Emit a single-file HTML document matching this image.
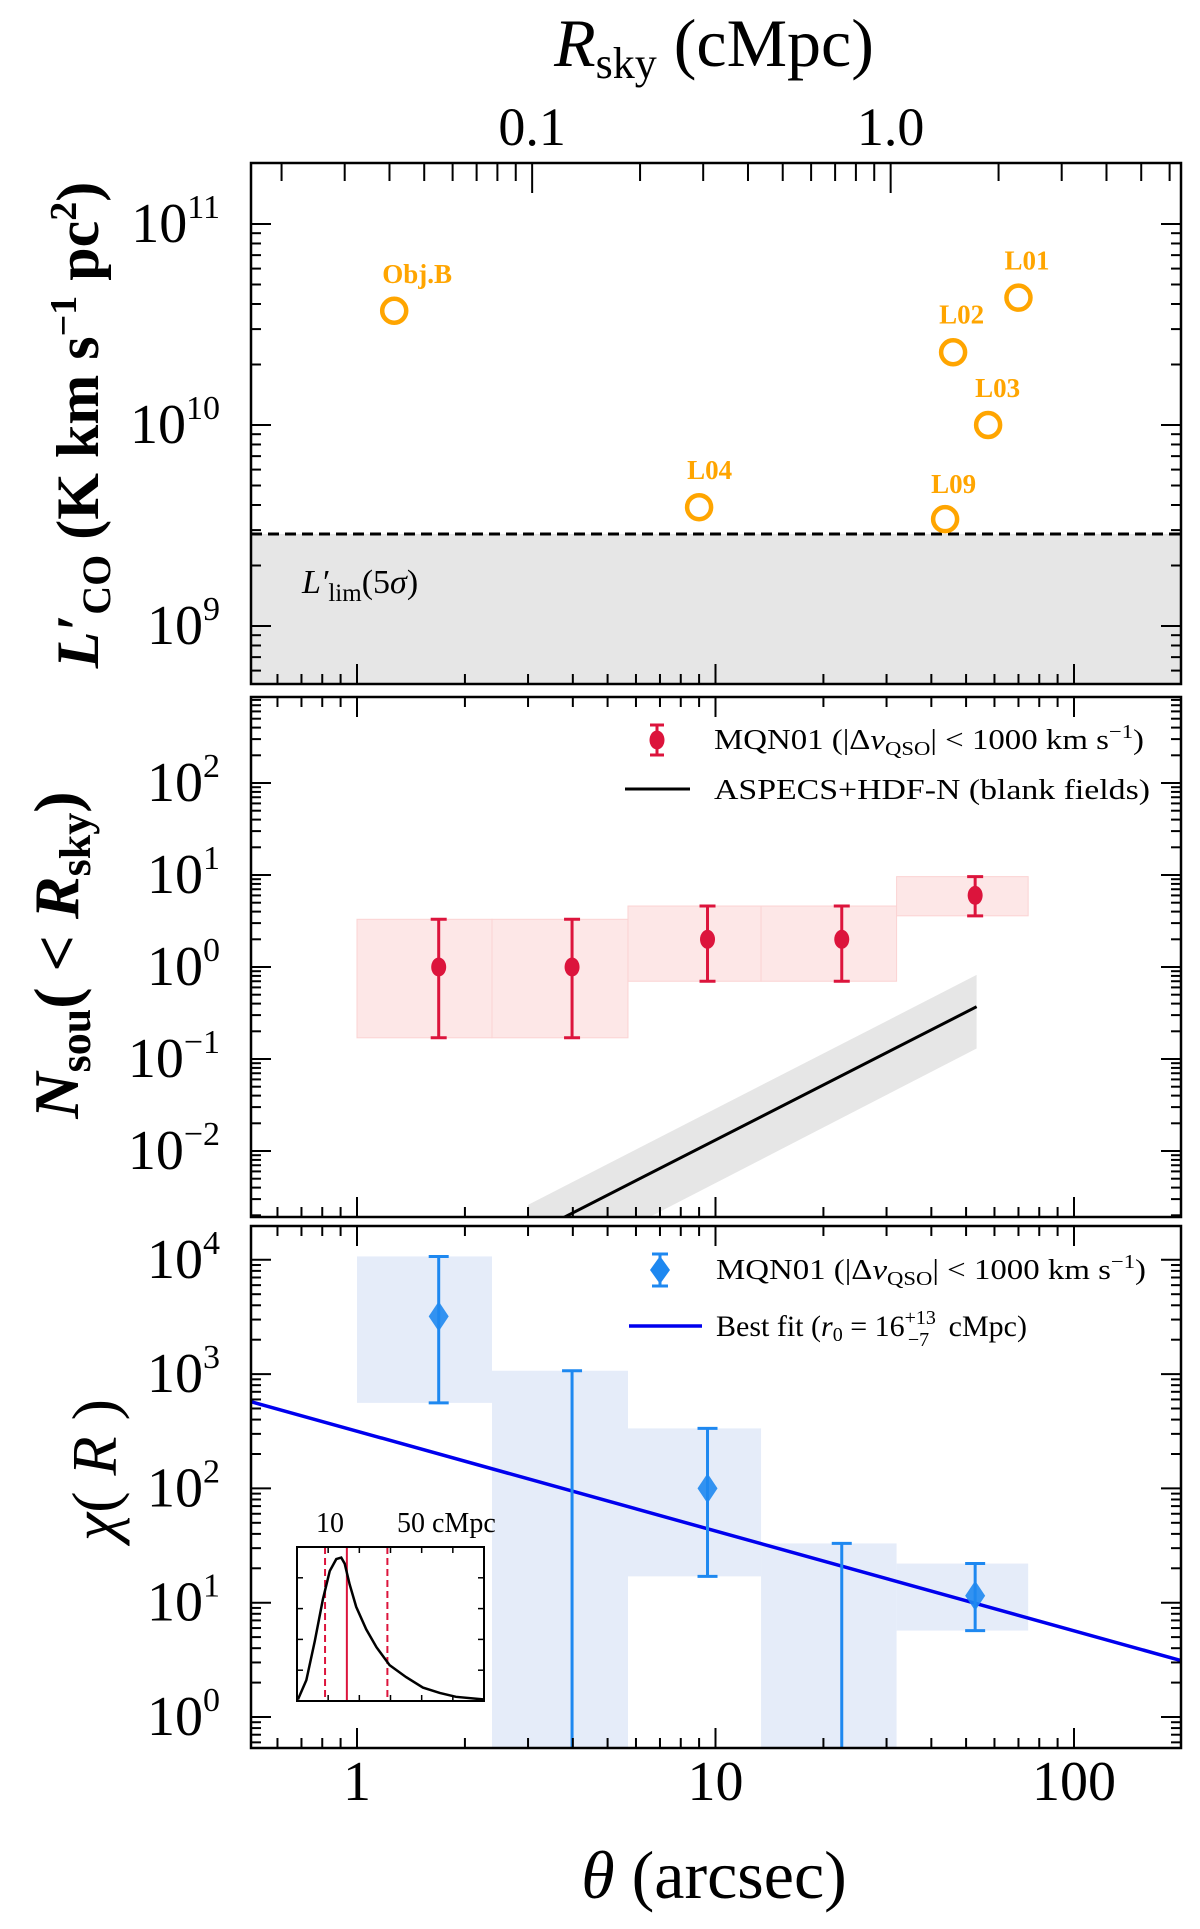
<!DOCTYPE html>
<html><head><meta charset="utf-8">
<style>
html,body{margin:0;padding:0;background:#fff;}
svg{display:block;font-family:"Liberation Serif","DejaVu Serif",serif;}
</style></head>
<body>
<svg id="fig" width="1200" height="1929" viewBox="0 0 1200 1929" xmlns="http://www.w3.org/2000/svg"></svg>
<script>
// ---------- data ----------
const objNames = ["Obj.B","L04","L09","L02","L03","L01"];
const objTheta = [1.27, 9.0, 43.7, 46, 57.6, 70];
const objLco = [3.7e10, 3.9e9, 3.4e9, 2.3e10, 1.0e10, 4.3e10];
const lcoLimit = 2.87e9;

const binEdges = [1, 2.38, 5.7, 13.4, 32, 74.5];
const binCenters = [1.69, 3.98, 9.5, 22.5, 53];
const nsouVal = [1, 1, 2, 2, 6];
const nsouLo = [0.17, 0.17, 0.7, 0.7, 3.6];
const nsouHi = [3.3, 3.3, 4.6, 4.6, 9.6];
const blankTheta = [3.0, 53.5];
const blankN = [0.0012, 0.37];
const blankLo = [0.0004, 0.13];
const blankHi = [0.0026, 0.82];

const chiVal = [3200, null, 100, null, 11.5];
const chiLo = [560, 0.3, 17, 0.3, 5.7];
const chiHi = [10700, 1070, 335, 33, 22];
const fitTheta = [0.5, 200];
const fitChi = [580, 3.1];

const insetR = [0.3,3,5.7,8.3,10.5,12.6,14.2,15.3,16.9,19,22.2,25.5,29.7,35,40.4,45.8,51,59.7];
const insetP = [0.01,0.14,0.40,0.68,0.87,0.95,0.96,0.92,0.78,0.63,0.48,0.36,0.24,0.16,0.09,0.054,0.028,0.011];
const insetLines = [9, 16, 29];

// ---------- helpers ----------
const NS="http://www.w3.org/2000/svg";
const svg=document.getElementById('fig');
function mk(tag,attrs,parent){const e=document.createElementNS(NS,tag);for(const k in attrs)e.setAttribute(k,attrs[k]);(parent||svg).appendChild(e);return e;}
const XL=251,XR=1181;
const xs=t=>357+Math.log10(t)*358.5;
function ys(y0,pxPerDec,topExp){return v=>y0+(topExp-Math.log10(v))*pxPerDec;}
const P1={top:163,bot:684,y:ys(224,201,11)};
const P2={top:697,bot:1217,y:ys(967,92,0)};
const P3={top:1226,bot:1748,y:ys(1717,114.3,0)};

function clip(id,p){const c=mk('clipPath',{id:id});mk('rect',{x:XL,y:p.top,width:XR-XL,height:p.bot-p.top},c);}
clip('c1',P1);clip('c2',P2);clip('c3',P3);

function xTicks(p,top,bottom,g){
  for(let d=-1;d<=2;d++)for(let m=1;m<10;m++){const v=m*Math.pow(10,d);const x=xs(v);if(x<XL+1||x>XR-1)continue;
    const L=m===1?20:10;
    if(bottom)mk('line',{x1:x,x2:x,y1:p.bot,y2:p.bot-L,stroke:'#000','stroke-width':2},g);
    if(top)mk('line',{x1:x,x2:x,y1:p.top,y2:p.top+L,stroke:'#000','stroke-width':2},g);}
}
function yTicks(p,eMin,eMax,g){
  for(let e=eMin;e<=eMax;e++)for(let m=1;m<10;m++){const v=m*Math.pow(10,e);const y=p.y(v);if(y<p.top+1||y>p.bot-1)continue;
    const L=m===1?20:10;
    mk('line',{x1:XL,x2:XL+L,y1:y,y2:y,stroke:'#000','stroke-width':2},g);
    mk('line',{x1:XR,x2:XR-L,y1:y,y2:y,stroke:'#000','stroke-width':2},g);}
}
function yLabel(p,e,g){const y=p.y(Math.pow(10,e));const t=mk('text',{x:220,y:y+18,'font-size':56,'text-anchor':'end'},g);
  
  
  t.appendChild(document.createTextNode('10'));const s=mk('tspan',{dy:-24,'font-size':34},t);s.textContent=(e<0?'\u2212'+(-e):e);}

// ---------- panel 1 ----------
const g1=mk('g',{});
mk('rect',{x:XL,y:P1.y(lcoLimit),width:XR-XL,height:P1.bot-P1.y(lcoLimit),fill:'#e6e6e6',},g1);
mk('line',{x1:XL,x2:XR,y1:P1.y(lcoLimit),y2:P1.y(lcoLimit),stroke:'#000','stroke-width':3,'stroke-dasharray':'11,6',},g1);
const ll=mk('text',{x:302,y:593,'font-size':34,'font-style':'italic',},g1);
ll.innerHTML="L′<tspan font-style='normal' font-size='25' dy='8'>lim</tspan><tspan font-style='normal' dy='-8'>(5</tspan>σ<tspan font-style='normal'>)</tspan>";
const labOff={"Obj.B":[-12,-28],"L04":[-12,-28],"L09":[-14,-26],"L02":[-14,-29],"L03":[-13,-28],"L01":[-14,-28]};
objNames.forEach((n,i)=>{
  const x=xs(objTheta[i]),y=P1.y(objLco[i]);
  const c=mk('circle',{cx:x,cy:y,r:12,fill:'none',stroke:'#FFA500','stroke-width':4.5},g1);
  
  
  const t=mk('text',{x:x+labOff[n][0],y:y+labOff[n][1],'font-size':27,'font-weight':'bold',fill:'#FFA500'},g1);
  
  
  t.textContent=n;
});
yTicks(P1,8,11,g1);xTicks(P1,false,true,g1);
const thetaPerMpc=30.8;
for(let d=-2;d<=0;d++)for(let m=1;m<10;m++){const r=m*Math.pow(10,d);const x=xs(r*thetaPerMpc);if(x<XL+1||x>XR-1)continue;
  mk('line',{x1:x,x2:x,y1:P1.top,y2:P1.top+(m===1?30:18),stroke:'#000','stroke-width':2},g1);}
[[0.1,'0.1'],[1,'1.0']].forEach(a=>{const t=mk('text',{x:xs(a[0]*thetaPerMpc),y:145,'font-size':54,'text-anchor':'middle',},g1);t.textContent=a[1];});
mk('rect',{x:XL,y:P1.top,width:XR-XL,height:P1.bot-P1.top,fill:'none',stroke:'#000','stroke-width':2.5},g1);
[9,10,11].forEach(e=>yLabel(P1,e,g1));
const tt=mk('text',{x:714,y:66,'font-size':68,'text-anchor':'middle',},g1);
tt.innerHTML="<tspan font-style='italic'>R</tspan><tspan font-size='44' dy='12'>sky</tspan><tspan dy='-12'> (cMpc)</tspan>";
const y1t=mk('text',{transform:'translate(98,425) rotate(-90)','font-size':60,'text-anchor':'middle','font-weight':'bold',},g1);
y1t.innerHTML="<tspan font-style='italic'>L′</tspan><tspan font-size='40' dy='12'>CO</tspan><tspan dy='-12'> (K km s</tspan><tspan font-size='38' dy='-22'>−1</tspan><tspan dy='22'> pc</tspan><tspan font-size='38' dy='-22'>2</tspan><tspan dy='22'>)</tspan>";

// ---------- panel 2 ----------
const g2=mk('g',{});
const g2c=mk('g',{'clip-path':'url(#c2)'},g2);
binCenters.forEach((c,i)=>{
  const r=mk('rect',{x:xs(binEdges[i]),y:P2.y(nsouHi[i]),width:xs(binEdges[i+1])-xs(binEdges[i]),height:P2.y(nsouLo[i])-P2.y(nsouHi[i]),fill:'#fde4e4','fill-opacity':0.9,stroke:'#fbd3d3','stroke-width':1},g2c);
  
  
});
const band=[];for(let i=0;i<blankTheta.length;i++)band.push(xs(blankTheta[i])+','+P2.y(blankHi[i]));
for(let i=blankTheta.length-1;i>=0;i--)band.push(xs(blankTheta[i])+','+P2.y(blankLo[i]));
mk('polygon',{points:band.join(' '),fill:'#e6e6e6',},g2c);
mk('polyline',{points:blankTheta.map((t,i)=>xs(t)+','+P2.y(blankN[i])).join(' '),fill:'none',stroke:'#000','stroke-width':3,},g2c);
binCenters.forEach((c,i)=>{
  const x=xs(c);const gp=mk('g',{},g2c);
  
  
  mk('line',{x1:x,x2:x,y1:P2.y(nsouLo[i]),y2:P2.y(nsouHi[i]),stroke:'#DC143C','stroke-width':3},gp);
  [nsouLo[i],nsouHi[i]].forEach(v=>mk('line',{x1:x-8,x2:x+8,y1:P2.y(v),y2:P2.y(v),stroke:'#DC143C','stroke-width':3},gp));
  mk('ellipse',{cx:x,cy:P2.y(nsouVal[i]),rx:7.5,ry:9.5,fill:'#DC143C'},gp);
});
yTicks(P2,-3,2,g2);xTicks(P2,true,true,g2);
mk('rect',{x:XL,y:P2.top,width:XR-XL,height:P2.bot-P2.top,fill:'none',stroke:'#000','stroke-width':2.5},g2);
[-2,-1,0,1,2].forEach(e=>yLabel(P2,e,g2));
const lg2=mk('g',{},g2);
mk('line',{x1:657,x2:657,y1:725,y2:755,stroke:'#DC143C','stroke-width':3},lg2);
mk('line',{x1:650,x2:664,y1:725,y2:725,stroke:'#DC143C','stroke-width':3},lg2);
mk('line',{x1:650,x2:664,y1:755,y2:755,stroke:'#DC143C','stroke-width':3},lg2);
mk('ellipse',{cx:657,cy:740,rx:7.5,ry:9.5,fill:'#DC143C'},lg2);
const lt1=mk('text',{x:714,y:749,'font-size':29,textLength:430,lengthAdjust:'spacingAndGlyphs'},lg2);
lt1.innerHTML="MQN01 (|Δ<tspan font-style='italic'>v</tspan><tspan font-size='20' dy='6'>QSO</tspan><tspan dy='-6'>| &lt; 1000 km s</tspan><tspan font-size='20' dy='-11'>−1</tspan><tspan dy='11'>)</tspan>";
mk('line',{x1:625,x2:690,y1:789,y2:789,stroke:'#000','stroke-width':3},lg2);
const lt2=mk('text',{x:714,y:799,'font-size':29,textLength:436,lengthAdjust:'spacingAndGlyphs'},lg2);lt2.textContent="ASPECS+HDF-N (blank fields)";
const y2t=mk('text',{transform:'translate(78,955) rotate(-90)','font-size':64,'text-anchor':'middle','font-weight':'bold',},g2);
y2t.innerHTML="<tspan font-style='italic'>N</tspan><tspan font-size='44' dy='12'>sou</tspan><tspan dy='-12'>( &lt; </tspan><tspan font-style='italic'>R</tspan><tspan font-size='44' dy='12'>sky</tspan><tspan dy='-12'>)</tspan>";

// ---------- panel 3 ----------
const g3=mk('g',{});
const g3c=mk('g',{'clip-path':'url(#c3)'},g3);
binCenters.forEach((c,i)=>{
  const lo=Math.max(chiLo[i],0.3);
  const r=mk('rect',{x:xs(binEdges[i]),y:P3.y(chiHi[i]),width:xs(binEdges[i+1])-xs(binEdges[i]),height:P3.y(lo)-P3.y(chiHi[i]),fill:'#e5ecf9'},g3c);
  
  
});
mk('polyline',{points:fitTheta.map((t,i)=>xs(t)+','+P3.y(fitChi[i])).join(' '),fill:'none',stroke:'#0000EE','stroke-width':3.5,},g3c);
binCenters.forEach((c,i)=>{
  const x=xs(c);const gp=mk('g',{},g3c);
  
  
  mk('line',{x1:x,x2:x,y1:P3.y(chiLo[i]),y2:P3.y(chiHi[i]),stroke:'#1E88F0','stroke-width':3},gp);
  mk('line',{x1:x-10,x2:x+10,y1:P3.y(chiHi[i]),y2:P3.y(chiHi[i]),stroke:'#1E88F0','stroke-width':3},gp);
  if(chiVal[i]!==null){
    mk('line',{x1:x-10,x2:x+10,y1:P3.y(chiLo[i]),y2:P3.y(chiLo[i]),stroke:'#1E88F0','stroke-width':3},gp);
    const y=P3.y(chiVal[i]);
    mk('polygon',{points:`${x},${y-15} ${x+10},${y} ${x},${y+15} ${x-10},${y}`,fill:'#1E88F0','fill-opacity':0.9},gp);
  }
});
yTicks(P3,-1,4,g3);xTicks(P3,true,true,g3);
mk('rect',{x:XL,y:P3.top,width:XR-XL,height:P3.bot-P3.top,fill:'none',stroke:'#000','stroke-width':2.5},g3);
[0,1,2,3,4].forEach(e=>yLabel(P3,e,g3));
[[1,'1'],[10,'10'],[100,'100']].forEach(a=>{const t=mk('text',{x:xs(a[0]),y:1800,'font-size':56,'text-anchor':'middle',},g3);t.textContent=a[1];});
const xt=mk('text',{x:714,y:1898,'font-size':68,'text-anchor':'middle',},g3);
xt.innerHTML="<tspan font-style='italic'>θ</tspan> (arcsec)";
const y3t=mk('text',{transform:'translate(116,1470) rotate(-90)','font-size':64,'text-anchor':'middle',},g3);
y3t.innerHTML="<tspan font-style='italic'>χ</tspan>( <tspan font-style='italic'>R</tspan> )";
const lg3=mk('g',{},g3);
mk('line',{x1:660,x2:660,y1:1254,y2:1286,stroke:'#1E88F0','stroke-width':3},lg3);
mk('line',{x1:652,x2:668,y1:1254,y2:1254,stroke:'#1E88F0','stroke-width':3},lg3);
mk('line',{x1:652,x2:668,y1:1286,y2:1286,stroke:'#1E88F0','stroke-width':3},lg3);
mk('polygon',{points:'660,1256 670,1270 660,1284 650,1270',fill:'#1E88F0'},lg3);
const lt3=mk('text',{x:716,y:1279,'font-size':29,textLength:430,lengthAdjust:'spacingAndGlyphs'},lg3);
lt3.innerHTML="MQN01 (|Δ<tspan font-style='italic'>v</tspan><tspan font-size='20' dy='6'>QSO</tspan><tspan dy='-6'>| &lt; 1000 km s</tspan><tspan font-size='20' dy='-11'>−1</tspan><tspan dy='11'>)</tspan>";
mk('line',{x1:629,x2:702,y1:1326,y2:1326,stroke:'#0000EE','stroke-width':3.5},lg3);
const lt4=mk('text',{x:716,y:1336,'font-size':30},lg3);
lt4.innerHTML="Best fit (<tspan font-style='italic'>r</tspan><tspan font-size='20' dy='5'>0</tspan><tspan dy='-5'> = 16</tspan><tspan font-size='20' dy='-12'>+13</tspan><tspan font-size='20' dx='-28' dy='22'>−7</tspan><tspan dx='12' dy='-10'> cMpc)</tspan>";

// ---------- inset ----------
const gi=mk('g',{});
const IX0=297,IX1=484,IY0=1547,IY1=1701;
const ix=r=>IX0+(r/60)*(IX1-IX0);const iy=p=>IY1-p*(IY1-IY0)*0.97;
mk('rect',{x:IX0,y:IY0,width:IX1-IX0,height:IY1-IY0,fill:'#fff'},gi);
for(let r=10;r<60;r+=10){mk('line',{x1:ix(r),x2:ix(r),y1:IY1,y2:IY1-6,stroke:'#000','stroke-width':1.5},gi);mk('line',{x1:ix(r),x2:ix(r),y1:IY0,y2:IY0+6,stroke:'#000','stroke-width':1.5},gi);}
for(let k=1;k<5;k++){const y=IY1-k*(IY1-IY0)/5;mk('line',{x1:IX0,x2:IX0+6,y1:y,y2:y,stroke:'#000','stroke-width':1.5},gi);mk('line',{x1:IX1,x2:IX1-6,y1:y,y2:y,stroke:'#000','stroke-width':1.5},gi);}
insetLines.forEach((r,i)=>{const l=mk('line',{x1:ix(r),x2:ix(r),y1:IY0,y2:IY1,stroke:'#DC143C','stroke-width':2,'stroke-dasharray':i===1?'none':'7,4'},gi);
  
  });
mk('polyline',{points:insetR.map((r,i)=>ix(r)+','+iy(insetP[i])).join(' '),fill:'none',stroke:'#000','stroke-width':2.5,},gi);
mk('rect',{x:IX0,y:IY0,width:IX1-IX0,height:IY1-IY0,fill:'none',stroke:'#000','stroke-width':2},gi);
const it1=mk('text',{x:330,y:1532,'font-size':28,'text-anchor':'middle'},gi);it1.textContent='10';
const it2=mk('text',{x:397,y:1532,'font-size':28},gi);it2.textContent='50 cMpc';
</script>
</body></html>
